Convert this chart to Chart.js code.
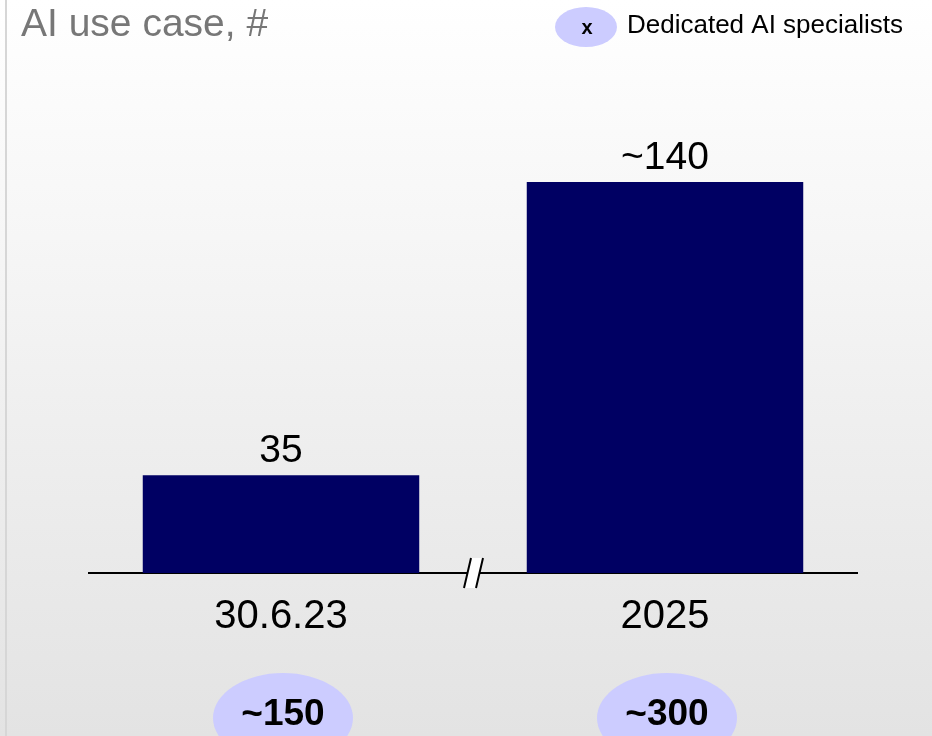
<!DOCTYPE html>
<html>
<head>
<meta charset="utf-8">
<script src="https://cdn.jsdelivr.net/npm/chart.js@4/dist/chart.umd.min.js"></script>
<style>
  html, body { margin: 0; padding: 0; background: #fff; }
  #wrap { width: 932px; height: 736px; position: relative; }
</style>
</head>
<body>
<div id="wrap"><canvas id="useCases" width="932" height="736"></canvas></div>
<script>
const categories = ['30.6.23', '2025'];
const useCases = [35, 140];
const useCaseLabels = ['35', '~140'];
const specialists = ['~150', '~300'];
const titleText = 'AI use case, #';
const legendText = 'Dedicated AI specialists';

const FONT = '"Liberation Sans", Arial, sans-serif';

// background gradient, left rule, title and legend
const backdrop = {
    id: 'backdrop',
    beforeDraw(chart) {
        const ctx = chart.ctx;
        const w = chart.width, h = chart.height;
        ctx.save();
        const g = ctx.createLinearGradient(0, 0, 0, h);
        g.addColorStop(0, '#ffffff');
        g.addColorStop(1, '#e3e3e3');
        ctx.fillStyle = g;
        ctx.fillRect(0, 0, w, h);
        ctx.fillStyle = '#d6d6d6';
        ctx.fillRect(5, 0, 2, h);

        ctx.fillStyle = '#777777';
        ctx.font = '39px ' + FONT;
        ctx.textBaseline = 'alphabetic';
        ctx.textAlign = 'left';
        ctx.fillText(titleText, 21, 36);

        ctx.fillStyle = '#ccccff';
        ctx.beginPath();
        ctx.ellipse(586, 27, 31, 20, 0, 0, Math.PI * 2);
        ctx.fill();
        ctx.fillStyle = '#000';
        ctx.font = 'bold 20px ' + FONT;
        ctx.textAlign = 'center';
        ctx.fillText('x', 587, 34);
        ctx.font = '26px ' + FONT;
        ctx.textAlign = 'left';
        ctx.fillText(legendText, 627, 33);
        ctx.restore();
    }
};

// value labels, axis break and specialist bubbles
const extras = {
    id: 'extras',
    afterDraw(chart) {
        const ctx = chart.ctx;
        const meta = chart.getDatasetMeta(0);
        const xs = chart.scales.x;
        const base = chart.chartArea.bottom;
        ctx.save();
        ctx.fillStyle = '#000';
        ctx.font = '39px ' + FONT;
        ctx.textAlign = 'center';
        ctx.textBaseline = 'alphabetic';
        meta.data.forEach((bar, i) => {
            ctx.fillText(useCaseLabels[i], bar.x, bar.y - 13);
        });

        // "//" break on the baseline
        const bx = (xs.getPixelForTick(0) + xs.getPixelForTick(1)) / 2;
        ctx.fillStyle = '#fff';
        ctx.beginPath();
        ctx.moveTo(bx - 9, base + 15);
        ctx.lineTo(bx - 2, base - 15);
        ctx.lineTo(bx + 10, base - 15);
        ctx.lineTo(bx + 3, base + 15);
        ctx.closePath();
        ctx.fill();
        ctx.strokeStyle = '#000';
        ctx.lineWidth = 2;
        ctx.beginPath();
        ctx.moveTo(bx - 9, base + 15);
        ctx.lineTo(bx - 2, base - 15);
        ctx.moveTo(bx + 3, base + 15);
        ctx.lineTo(bx + 10, base - 15);
        ctx.stroke();

        specialists.forEach((s, i) => {
            const cx = xs.getPixelForTick(i);
            ctx.fillStyle = '#ccccff';
            ctx.beginPath();
            ctx.ellipse(cx + 2, 718, 70, 45, 0, 0, Math.PI * 2);
            ctx.fill();
            ctx.fillStyle = '#000';
            ctx.font = 'bold 37px ' + FONT;
            ctx.textAlign = 'center';
            ctx.textBaseline = 'alphabetic';
            ctx.fillText(s, cx + 2, 725);
        });
        ctx.restore();
    }
};

new Chart(
    document.getElementById('useCases'),
    {
        type: 'bar',
        data: {
            labels: categories,
            datasets: [
                {
                    label: titleText,
                    data: useCases,
                    backgroundColor: '#000063',
                    borderWidth: 0,
                    barPercentage: 0.72,
                    categoryPercentage: 1
                }
            ]
        },
        options: {
            responsive: false,
            animation: false,
            events: [],
            layout: {
                padding: { top: 126, left: 89, right: 75, bottom: 0 }
            },
            scales: {
                x: {
                    grid: { display: false },
                    border: { display: true, color: '#000', width: 2 },
                    ticks: {
                        color: '#000',
                        padding: 12,
                        font: { family: FONT, size: 40 }
                    },
                    afterFit(scale) {
                        scale.height = 163;
                    }
                },
                y: {
                    display: false,
                    min: 0,
                    max: 160
                }
            },
            plugins: {
                legend: { display: false },
                tooltip: { enabled: false },
                title: { display: false }
            }
        },
        plugins: [backdrop, extras]
    }
);
</script>
</body>
</html>
